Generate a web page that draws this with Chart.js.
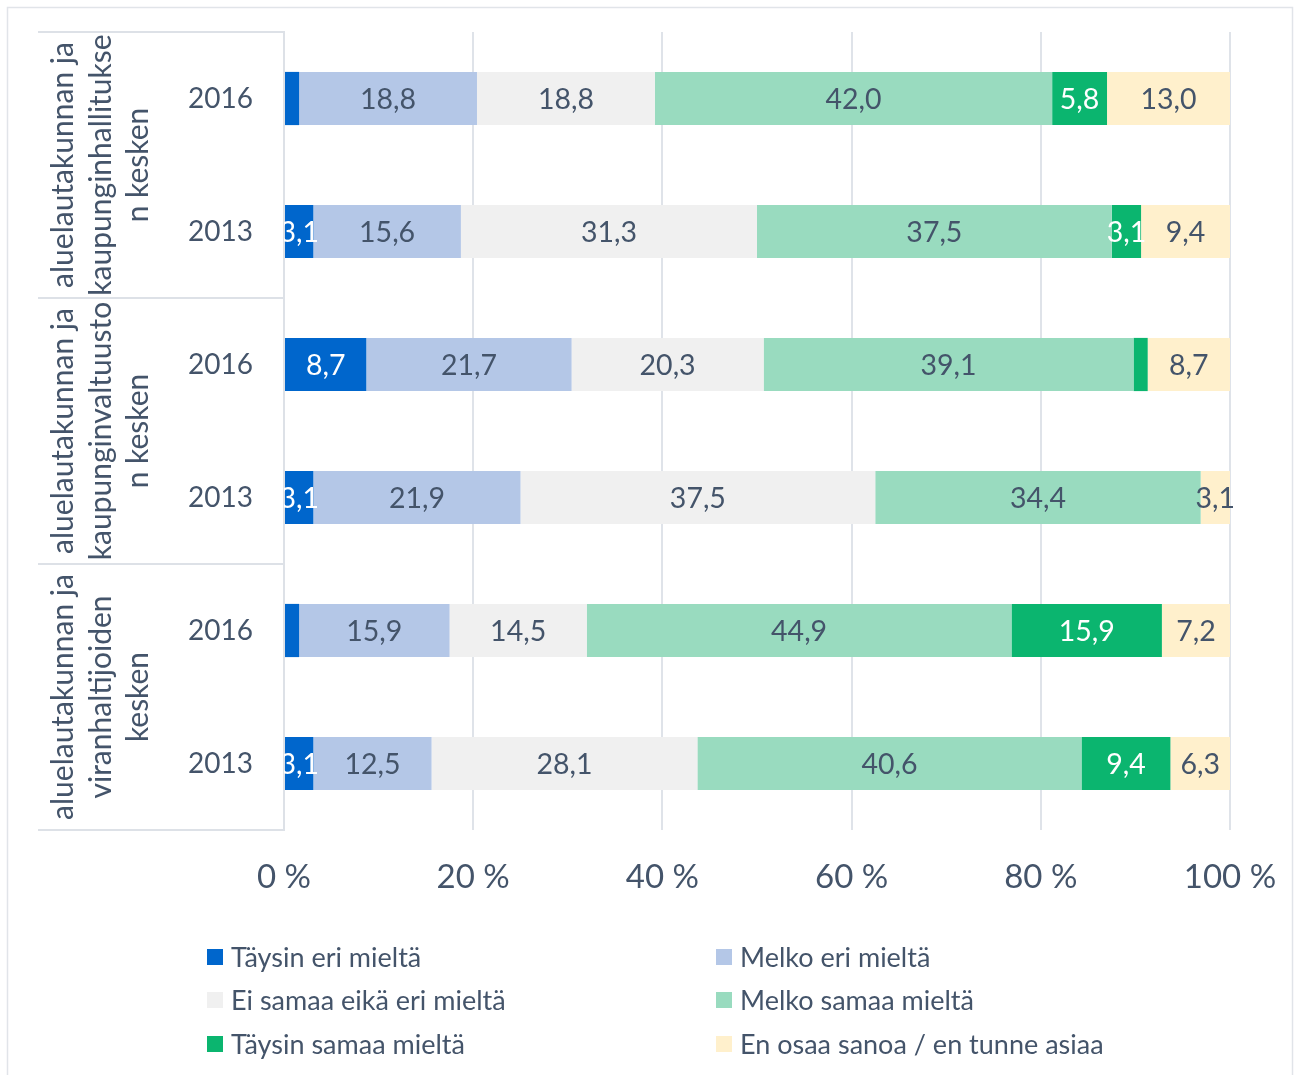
<!DOCTYPE html>
<html>
<head>
<meta charset="utf-8">
<script src="https://cdn.jsdelivr.net/npm/chart.js@4.4.1/dist/chart.umd.min.js"></script>
<style>
html,body{margin:0;padding:0;background:#fff;}
#wrap{position:relative;width:1294px;height:1075px;}
</style>
</head>
<body>
<div id="wrap"><canvas id="c" width="1294" height="1075"></canvas></div>
<script>
// ---- data ----
const yearLabels = ['2016', '2013', '2016', '2013', '2016', '2013'];
const groupLabels = [
  ['aluelautakunnan ja', 'kaupunginhallitukse', 'n kesken'],
  ['aluelautakunnan ja', 'kaupunginvaltuusto', 'n kesken'],
  ['aluelautakunnan ja', 'viranhaltijoiden', 'kesken']
];
const seriesNames = ['Täysin eri mieltä', 'Melko eri mieltä', 'Ei samaa eikä eri mieltä', 'Melko samaa mieltä', 'Täysin samaa mieltä', 'En osaa sanoa / en tunne asiaa'];
const taysinEri   = [1.6, 3.1, 8.7, 3.1, 1.6, 3.1];
const melkoEri    = [18.8, 15.6, 21.7, 21.9, 15.9, 12.5];
const eiSamaa     = [18.8, 31.3, 20.3, 37.5, 14.5, 28.1];
const melkoSamaa  = [42.0, 37.5, 39.1, 34.4, 44.9, 40.6];
const taysinSamaa = [5.8, 3.1, 1.5, 0, 15.9, 9.4];
const enOsaa      = [13.0, 9.4, 8.7, 3.1, 7.2, 6.3];
const xTicks = [0, 20, 40, 60, 80, 100];

const seriesValues = [taysinEri, melkoEri, eiSamaa, melkoSamaa, taysinSamaa, enOsaa];
const colors = ['#0066CC', '#B4C7E7', '#F0F0F0', '#99DBBF', '#0BB56F', '#FFF0CC'];
const labelColors = ['#FFFFFF', '#44546A', '#44546A', '#44546A', '#FFFFFF', '#44546A'];
const TEXT = '#44546A';
const FONT = 'Lato, "Open Sans", sans-serif';

const datasets = seriesNames.map((n, i) => ({
  label: n,
  data: seriesValues[i],
  backgroundColor: colors[i],
  borderWidth: 0,
  barPercentage: 0.4,
  categoryPercentage: 1.0
}));

const decor = {
  id: 'decor',
  beforeDraw(chart) {
    const ctx = chart.ctx;
    ctx.save();
    ctx.strokeStyle = '#E1E4E9';
    ctx.lineWidth = 1.5;
    ctx.strokeRect(7.5, 7.5, 1285, 1080);
    ctx.restore();
  },
  afterDraw(chart) {
    const ctx = chart.ctx;
    const ys = chart.scales.y;
    const area = chart.chartArea;
    const sp = ys.getPixelForValue(1) - ys.getPixelForValue(0);
    ctx.save();
    // group separators
    ctx.strokeStyle = '#DDE1E7';
    ctx.lineWidth = 2;
    for (let g = 0; g <= groupLabels.length; g++) {
      const y = g < groupLabels.length ? ys.getPixelForValue(2 * g) - sp / 2 : ys.getPixelForValue(2 * g - 1) + sp / 2;
      ctx.beginPath();
      ctx.moveTo(38, y);
      ctx.lineTo(area.left, y);
      ctx.stroke();
    }
    // group labels
    ctx.fillStyle = TEXT;
    ctx.font = '30px ' + FONT;
    ctx.textAlign = 'center';
    ctx.textBaseline = 'middle';
    groupLabels.forEach((lines, g) => {
      const cy = (ys.getPixelForValue(2 * g) + ys.getPixelForValue(2 * g + 1)) / 2;
      const xs = [63, 101, 138];
      lines.forEach((t, k) => {
        ctx.save();
        ctx.translate(xs[k], cy);
        ctx.rotate(-Math.PI / 2);
        ctx.fillText(t, 0, 0);
        ctx.restore();
      });
    });
    // legend
    ctx.font = '27px ' + FONT;
    ctx.textAlign = 'left';
    const colX = [207, 716];
    const rowY = [957, 1000, 1044];
    chart.data.datasets.forEach((ds, i) => {
      const x = colX[i % 2];
      const y = rowY[Math.floor(i / 2)];
      ctx.fillStyle = ds.backgroundColor;
      ctx.fillRect(x, y - 8, 16, 16);
      ctx.fillStyle = TEXT;
      ctx.fillText(ds.label, x + 24, y + 1);
    });
    ctx.restore();
  },
  afterDatasetsDraw(chart) {
    const ctx = chart.ctx;
    const area = chart.chartArea;
    ctx.save();
    ctx.beginPath();
    ctx.rect(area.left, 0, chart.width - area.left, chart.height);
    ctx.clip();
    ctx.font = '28.5px ' + FONT;
    ctx.textAlign = 'center';
    ctx.textBaseline = 'middle';
    chart.data.datasets.forEach((ds, i) => {
      const meta = chart.getDatasetMeta(i);
      meta.data.forEach((el, j) => {
        const v = ds.data[j];
        if (v < 3) return;
        ctx.fillStyle = labelColors[i];
        ctx.fillText(v.toFixed(1).replace('.', ','), (el.x + el.base) / 2, el.y + 1);
      });
    });
    ctx.restore();
  }
};

new Chart(document.getElementById('c'), {
  type: 'bar',
  data: { labels: yearLabels, datasets },
  options: {
    indexAxis: 'y',
    responsive: false,
    animation: false,
    events: [],
    layout: { padding: { top: 32, right: 64, left: 0, bottom: 0 } },
    plugins: { legend: { display: false }, tooltip: { enabled: false } },
    scales: {
      x: {
        stacked: true,
        min: 0, max: 100,
        afterBuildTicks(s) { s.ticks = xTicks.map(v => ({ value: v })); },
        afterFit(s) { s.height = 245; s.paddingLeft = 0; s.paddingRight = 0; },
        grid: { color: '#DFE3E9', lineWidth: 2, drawTicks: false },
        border: { display: false },
        ticks: { padding: 28, color: TEXT, font: { family: FONT, size: 33 }, callback: v => v + ' %' }
      },
      y: {
        stacked: true,
        afterFit(s) { s.width = 284; s.paddingTop = 0; s.paddingBottom = 0; },
        grid: { display: false, drawTicks: false },
        border: { display: true, color: '#DDE1E7', width: 2 },
        ticks: { padding: 31, color: TEXT, font: { family: FONT, size: 28 } }
      }
    }
  },
  plugins: [decor]
});
</script>
</body>
</html>
